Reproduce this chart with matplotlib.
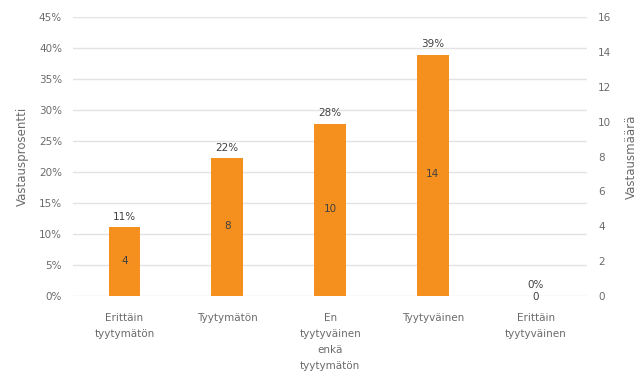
import numpy as np
import matplotlib.pyplot as plt

categories = ["Erittäin\ntyytymätön", "Tyytymätön", "En\ntyytyväinen\nenkä\ntyytymätön",
              "Tyytyväinen", "Erittäin\ntyytyväinen"]
counts = [4, 8, 10, 14, 0]
percent_ticks = [0, 5, 10, 15, 20, 25, 30, 35, 40, 45]
count_ticks = [0, 2, 4, 6, 8, 10, 12, 14, 16]

total = sum(counts)
percents = [c / total * 100 for c in counts]

grey = "#6b6b6b"
orange = "#F5901E"

fig = plt.figure(figsize=(6.41, 3.85), dpi=100)
ax = fig.add_axes([0.114, 0.231, 0.802, 0.725])
ax2 = ax.twinx()

x = np.arange(len(categories))
ax.bar(x, percents, width=0.31, color=orange, zorder=3)

ax.set_ylim(0, 45)
ax.set_yticks(percent_ticks)
ax.set_yticklabels([f"{t}%" for t in percent_ticks])
ax.set_xlim(-0.5, len(categories) - 0.5)
ax.set_xticks(x)
ax.set_xticklabels(categories, linespacing=1.75)
ax.grid(axis="y", color="#e3e3e3", linewidth=1, zorder=0)

ax2.set_ylim(0, 16)
ax2.set_yticks(count_ticks)

for a in (ax, ax2):
    for s in a.spines.values():
        s.set_visible(False)
    a.tick_params(length=0, labelsize=7.5, colors=grey, pad=8)
ax.tick_params(axis="x", pad=12)

ax.set_ylabel("Vastausprosentti", fontsize=8.5, color=grey)
ax.yaxis.set_label_coords(-0.085, 0.5)
ax2.set_ylabel("Vastausmäärä", fontsize=8.5, color=grey, labelpad=10)

# percentage labels above the bars, counts in the middle
for xi, p, c in zip(x, percents, counts):
    ax.text(xi, p + 0.9, f"{p:.0f}%", ha="center", va="bottom", fontsize=7.5, color="#404040")
    if c > 0:
        ax2.text(xi, c / 2, str(c), ha="center", va="center", fontsize=7.5, color="#404040")
    else:
        ax2.text(xi, -0.05, str(c), ha="center", va="center", fontsize=7.5, color="#404040")

fig.savefig("out.png", dpi=100)
